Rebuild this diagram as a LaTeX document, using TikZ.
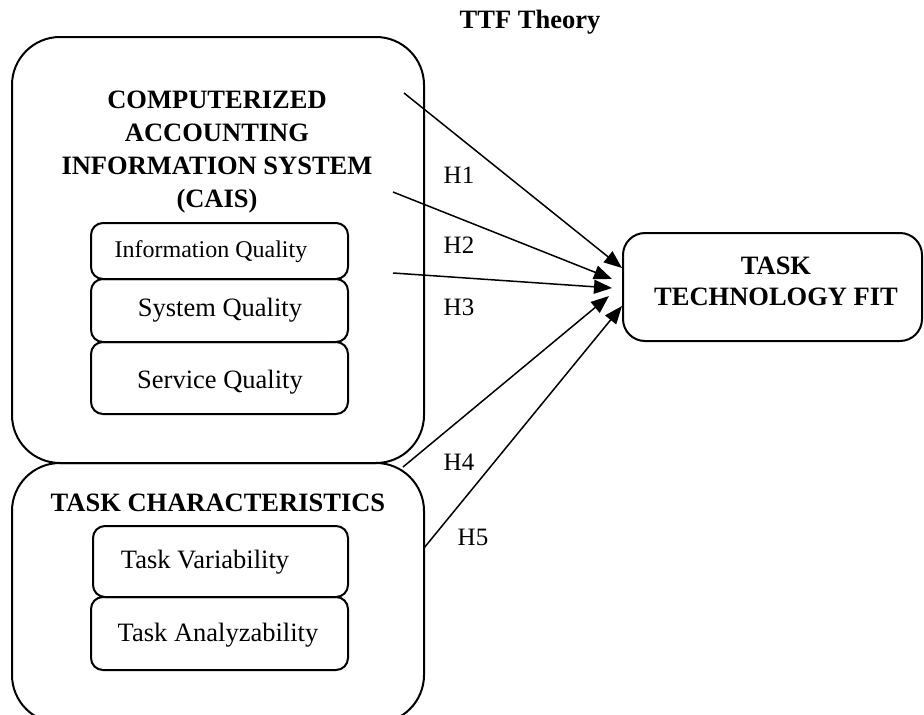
\documentclass[tikz,border=0pt]{standalone}
\usepackage{fontspec}
\setmainfont{Liberation Serif}
\usetikzlibrary{arrows.meta}
\begin{document}
\begin{tikzpicture}[x=1pt,y=-1pt,
  bigbox/.style={draw,line width=2pt,rounded corners=48pt,inner sep=0pt},
  subbox/.style={draw,line width=2pt,rounded corners=12pt,inner sep=0pt},
  fitbox/.style={draw,line width=2pt,rounded corners=22pt,inner sep=0pt},
  ttl/.style={font=\fontsize{26.5}{33}\selectfont\bfseries,align=center,inner sep=0pt},
  txt/.style={font=\fontsize{26.5}{32}\selectfont,inner sep=0pt},
  hyp/.style={font=\fontsize{25}{30}\selectfont,inner sep=0pt},
  arr/.style={line width=1.5pt,-{Triangle[length=18pt,width=14pt]}}]
\useasboundingbox (0,0) rectangle (924,715);
\begin{scope}
\clip (0,0) rectangle (924,715);
% outer boxes
\node[bigbox,minimum width=412pt,minimum height=426pt] (cais) at (218,250) {};
\node[bigbox,minimum width=412pt,minimum height=260pt] (task) at (218,593) {};
\end{scope}
% inner boxes
\node[subbox,minimum width=257pt,minimum height=56pt] (iq) at (219.5,251) {};
\node[subbox,minimum width=257pt,minimum height=63pt] (sq) at (219.5,310.5) {};
\node[subbox,minimum width=257pt,minimum height=72pt] (svq) at (219.5,378) {};
\node[subbox,minimum width=255pt,minimum height=71pt] (tv) at (220.5,561.5) {};
\node[subbox,minimum width=257pt,minimum height=73pt] (ta) at (219.5,633.5) {};
\node[fitbox,minimum width=299pt,minimum height=108pt] (ttf) at (772.5,287) {};
% texts
\node[ttl] (ttfth) at (530,22) {TTF Theory};
\node[ttl] (caist) at (217,152) {COMPUTERIZED\\ACCOUNTING\\INFORMATION SYSTEM\\(CAIS)};
\node[ttl] (taskt) at (218,503) {TASK CHARACTERISTICS};
\node[ttl,font=\fontsize{26.5}{31}\selectfont\bfseries] (ttft) at (776,281) {TASK\\TECHNOLOGY FIT};
\node[txt,font=\fontsize{24}{28}\selectfont] (iqt) at (211,252) {Information Quality};
\node[txt] (sqt) at (220,310) {System Quality};
\node[txt] (svqt) at (220,382) {Service Quality};
\node[txt] (tvt) at (205,562) {Task Variability};
\node[txt] (tat) at (218,635) {Task Analyzability};
\node[hyp] (h1) at (459,175) {H1};
\node[hyp] (h2) at (459,245) {H2};
\node[hyp] (h3) at (459,307) {H3};
\node[hyp] (h4) at (459,462) {H4};
\node[hyp] (h5) at (473,537) {H5};
% arrow ends
\coordinate (s1) at (404,93);
\coordinate (s2) at (393,192);
\coordinate (s3) at (393,273);
\coordinate (s4) at (403,467);
\coordinate (s5) at (424,548);
\coordinate (e1) at (622,268);
\coordinate (e2) at (612,279);
\coordinate (e3) at (612,288);
\coordinate (e4) at (609,296);
\coordinate (e5) at (622,306);
\draw[arr] (s1) -- (e1);
\draw[arr] (s2) -- (e2);
\draw[arr] (s3) -- (e3);
\draw[arr] (s4) -- (e4);
\draw[arr] (s5) -- (e5);
\end{tikzpicture}
\end{document}
